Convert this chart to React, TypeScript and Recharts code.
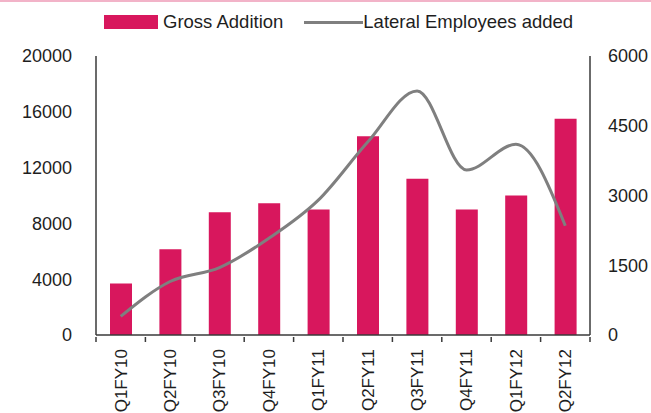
import { ComposedChart, Bar, Line, XAxis, YAxis } from "recharts";

const quarters = [
  "Q1FY10",
  "Q2FY10",
  "Q3FY10",
  "Q4FY10",
  "Q1FY11",
  "Q2FY11",
  "Q3FY11",
  "Q4FY11",
  "Q1FY12",
  "Q2FY12",
];
const grossAddition = [3700, 6150, 8800, 9450, 9000, 14250, 11200, 9000, 10000, 15500];
const lateralAdded = [400, 1150, 1450, 2080, 2900, 4150, 5250, 3550, 4100, 2350];
const leftTicks = [0, 4000, 8000, 12000, 16000, 20000];
const rightTicks = [0, 1500, 3000, 4500, 6000];

const data = quarters.map((q, i) => ({
  quarter: q,
  gross: grossAddition[i],
  lateral: lateralAdded[i],
}));

const FONT = "'Liberation Sans', Arial, sans-serif";
const BAR = "#d8175d";
const LINE = "#7f7f7f";
const AXIS = "#3a3a3a";
const TEXT = "#1e1e1e";

const W = 651;
const H = 413;
const LEFT_W = 96;
const RIGHT_W = 61;
const PLOT_W = W - LEFT_W - RIGHT_W;
const STEP = PLOT_W / quarters.length;

function QuarterTick(props: any) {
  const { x, y, payload, index } = props;
  const last = index === quarters.length - 1;
  return (
    <g>
      <line x1={x - STEP / 2} x2={x - STEP / 2} y1={y} y2={y + 5} stroke={AXIS} strokeWidth={1.5} />
      {last && (
        <line x1={x + STEP / 2} x2={x + STEP / 2} y1={y} y2={y + 5} stroke={AXIS} strokeWidth={1.5} />
      )}
      <text
        transform={`translate(${x},${y + 12}) rotate(-90)`}
        textAnchor="end"
        dy="0.35em"
        fontSize={17}
        fontFamily={FONT}
        fill={TEXT}
      >
        {payload.value}
      </text>
    </g>
  );
}

export default function App() {
  return (
    <div
      style={{
        position: "absolute",
        left: 0,
        top: 0,
        width: W,
        height: H,
        background: "#fff",
        fontFamily: FONT,
      }}
    >
      <div style={{ position: "absolute", left: 0, top: 0, width: W, height: 2, background: "#f2b3c8" }} />
      <div
        style={{
          position: "absolute",
          left: 104,
          top: 12,
          height: 20,
          display: "flex",
          alignItems: "center",
          fontSize: 18.5,
          color: TEXT,
          whiteSpace: "nowrap",
        }}
      >
        <span style={{ width: 54, height: 14, background: BAR, display: "inline-block" }} />
        <span style={{ marginLeft: 5 }}>Gross Addition</span>
        <span style={{ width: 59, height: 3, background: LINE, display: "inline-block", marginLeft: 21 }} />
        <span>Lateral Employees added</span>
      </div>
      <ComposedChart
        width={W}
        height={H}
        data={data}
        margin={{ top: 56, right: 0, bottom: 0, left: 0 }}
      >
        <XAxis
          dataKey="quarter"
          height={78}
          interval={0}
          tickLine={false}
          tickSize={0}
          stroke={AXIS}
          strokeWidth={1.5}
          tick={<QuarterTick />}
        />
        <YAxis
          yAxisId="left"
          width={LEFT_W}
          domain={[0, 20000]}
          ticks={leftTicks}
          tickLine={false}
          tickSize={0}
          tickMargin={24}
          stroke={AXIS}
          strokeWidth={1.5}
          tick={{ fill: TEXT, fontSize: 18, fontFamily: FONT }}
        />
        <YAxis
          yAxisId="right"
          orientation="right"
          width={RIGHT_W}
          domain={[0, 6000]}
          ticks={rightTicks}
          tickLine={false}
          tickSize={0}
          tickMargin={18}
          stroke={AXIS}
          strokeWidth={1.5}
          tick={{ fill: TEXT, fontSize: 18, fontFamily: FONT, textAnchor: "start" }}
        />
        <Bar
          yAxisId="left"
          dataKey="gross"
          name="Gross Addition"
          fill={BAR}
          barSize={22}
          isAnimationActive={false}
        />
        <Line
          yAxisId="right"
          dataKey="lateral"
          name="Lateral Employees added"
          type="monotone"
          stroke={LINE}
          strokeWidth={3}
          dot={false}
          activeDot={false}
          isAnimationActive={false}
        />
      </ComposedChart>
    </div>
  );
}
